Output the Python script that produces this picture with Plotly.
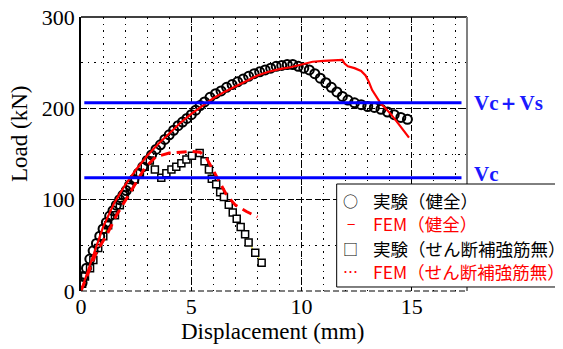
import plotly.graph_objects as go

# ---------------- data ----------------
# 実験（健全） – test, sound specimen (circles)
exp_sound_x = [0.05, 0.1, 0.25, 0.4, 0.55, 0.7, 0.85, 1.0, 1.15, 1.3, 1.45, 1.6, 1.75, 1.9, 2.05,
               2.2, 2.4, 2.6, 2.8, 3.0, 3.2, 3.4, 3.6, 3.8, 4.0, 4.2, 4.4, 4.6, 4.8, 5.0,
               5.2, 5.4, 5.6, 5.85, 6.1, 6.35, 6.6, 6.85, 7.1, 7.35, 7.6, 7.85, 8.1, 8.35, 8.6,
               8.85, 9.1, 9.35, 9.6, 9.85, 10.1, 10.35, 10.6, 10.85, 11.1, 11.35, 11.6, 11.85,
               12.1, 12.4, 12.7, 13.0, 13.3, 13.6, 13.9, 14.2, 14.5, 14.8]
exp_sound_y = [9, 16, 25, 35, 44, 52, 60, 68, 75, 82, 88, 94, 100, 105, 110,
               116, 122, 129, 136, 143, 149, 155, 160, 166, 171, 176, 181, 185, 189, 193,
               198, 203, 207, 212, 216, 219, 223, 226, 229, 232, 235, 238, 240, 242, 244,
               246, 247, 248, 248, 246, 244, 242, 238, 233, 228, 223, 218, 213,
               209, 206, 204, 202, 201, 199, 196, 193, 190, 188]

# FEM（健全） – analysis, sound specimen (solid red)
fem_sound_x = [0, 0.5, 1.0, 1.5, 2.0, 2.5, 3.0, 3.5, 4.0, 4.5, 5.0, 5.5, 6.0, 6.5, 7.0, 7.5,
               8.0, 8.5, 9.0, 9.5, 10.0, 10.5, 11.0, 11.5, 11.85, 11.95, 12.1, 12.4, 12.7,
               12.9, 13.05, 13.2, 13.4, 13.6, 13.8, 14.0, 14.3, 14.6, 14.87]
fem_sound_y = [0, 36, 70, 96, 116, 133, 148, 161, 173, 184, 194, 203, 211, 218, 224, 230,
               236, 240, 243, 245, 248, 251, 252, 253, 253, 249, 246, 244, 241,
               236, 229, 220, 212, 205, 200, 195, 186, 177, 168]

# 実験（せん断補強筋無） – test, no shear reinforcement (squares)
exp_noshear_x = [0.05, 0.18, 0.41, 0.56, 0.78, 1.01, 1.23, 1.54, 1.76, 1.99, 2.21, 2.44, 2.67,
                 2.89, 3.12, 3.35, 3.64, 3.87, 4.1, 4.32, 4.55, 4.78, 5.03, 5.38, 5.6, 5.8,
                 5.93, 6.13, 6.31, 6.48, 6.7, 6.88, 7.06, 7.24, 7.44, 7.6, 7.9, 8.19]
exp_noshear_y = [8, 16, 25, 34, 47, 60, 72, 83, 94, 105, 114, 122, 129,
                 136, 143, 133, 124, 129, 133, 136, 140, 144, 148, 151, 142, 133,
                 123, 117, 108, 103, 94.5, 86, 79, 70, 62, 53, 42, 31]

# FEM（せん断補強筋無） – analysis, no shear reinforcement (dashed red)
fem_noshear_x = [0, 0.33, 0.71, 1.16, 1.61, 2.06, 2.5, 2.9, 3.4, 4.0, 4.5, 5.0, 5.4, 5.7,
                 6.0, 6.3, 6.6, 7.0, 7.5, 8.0]
fem_noshear_y = [0, 21, 43, 61, 83, 101, 118, 135, 147, 151, 152, 153, 152, 145,
                 132, 119, 105, 94, 87, 81]

# design shear capacities
cap_labels = ["Vc＋Vs", "Vc"]
cap_values = [206, 124]

legend_labels = ["実験（健全）", "FEM（健全）", "実験（せん断補強筋無）", "FEM（せん断補強筋無）"]
legend_glyphs = ["○", "−", "□", "⋯"]
legend_colors = ["black", "red", "black", "red"]

x_ticks = [0, 5, 10, 15]
y_ticks = [0, 100, 200, 300]

# ---------------- figure ----------------
X_MAX, Y_MAX = 17.5, 300
SERIF = "Liberation Serif, Times New Roman, serif"
CJK = "Noto Sans CJK JP, sans-serif"

fig = go.Figure()

fig.add_trace(go.Scatter(x=exp_noshear_x, y=exp_noshear_y, mode="lines",
                         line=dict(color="#e8e000", width=1), showlegend=False, hoverinfo="skip"))
fig.add_trace(go.Scatter(x=exp_noshear_x, y=exp_noshear_y, mode="markers",
                         marker=dict(symbol="square", size=7, color="white",
                                     line=dict(color="black", width=1.5)),
                         name=legend_labels[2], showlegend=False))
fig.add_trace(go.Scatter(x=exp_sound_x, y=exp_sound_y, mode="markers",
                         marker=dict(symbol="circle-open", size=9,
                                     line=dict(color="black", width=2), color="black"),
                         name=legend_labels[0], showlegend=False))
fig.add_trace(go.Scatter(x=fem_sound_x, y=fem_sound_y, mode="lines",
                         line=dict(color="red", width=2.2), name=legend_labels[1], showlegend=False))
fig.add_trace(go.Scatter(x=fem_noshear_x, y=fem_noshear_y, mode="lines",
                         line=dict(color="red", width=3, dash="10px,6px"),
                         name=legend_labels[3], showlegend=False))

for v in cap_values:
    fig.add_trace(go.Scatter(x=[0.15, 17.25], y=[v, v], mode="lines",
                             line=dict(color="#0000ff", width=3), showlegend=False, hoverinfo="skip"))

# capacity labels
for lab, v, shift in zip(cap_labels, cap_values, [0, 4]):
    fig.add_annotation(x=1.0, xref="paper", y=v, yref="y", text=f"<b>{lab}</b>",
                       showarrow=False, xanchor="left", yanchor="middle", xshift=5, yshift=shift,
                       font=dict(family=SERIF, size=21, color="#1a1aff"))

# frame lines
fig.add_shape(type="line", xref="paper", yref="paper", x0=0, x1=1, y0=1, y1=1,
              line=dict(color="black", width=1.5))
fig.add_shape(type="line", xref="paper", yref="paper", x0=1, x1=1, y0=0, y1=1,
              line=dict(color="#808080", width=2))
fig.add_shape(type="line", xref="paper", yref="paper", x0=0, x1=1, y0=0, y1=0,
              line=dict(color="black", width=1, dash="6px,3px"))

# legend box (drawn as text)
fig.add_shape(type="rect", xref="paper", yref="paper", x0=0.6624, x1=1.2445, y0=0.0146, y1=0.3905,
              line=dict(color="black", width=1), fillcolor="white", layer="above")
row_y = [0.332, 0.247, 0.156, 0.072]
for g, lab, col, yy in zip(legend_glyphs, legend_labels, legend_colors, row_y):
    fig.add_annotation(x=0.699, xref="paper", y=yy, yref="paper", text=g, showarrow=False,
                       xanchor="center", yanchor="middle", font=dict(family=CJK, size=15, color=col))
    fig.add_annotation(x=0.750, xref="paper", y=yy, yref="paper", text=lab, showarrow=False,
                       xanchor="left", yanchor="middle", font=dict(family=CJK, size=17.5, color=col))

# axis titles
fig.add_annotation(x=-0.158, xref="paper", y=0.573, yref="paper", text="Load (kN)", textangle=-90,
                   showarrow=False, xanchor="center", yanchor="middle",
                   font=dict(family=SERIF, size=23, color="black"))
fig.add_annotation(x=0.4968, xref="paper", y=-0.1485, yref="paper", text="Displacement (mm)",
                   showarrow=False, xanchor="center", yanchor="middle",
                   font=dict(family=SERIF, size=23, color="black"))

grid_major = dict(showgrid=True, gridcolor="black", gridwidth=1, griddash="6px,3px")
fig.update_xaxes(range=[0, X_MAX], tickvals=x_ticks, ticktext=[str(t) for t in x_ticks],
                 zeroline=False, showline=False, ticks="", automargin=False,
                 ticklabeloverflow="allow",
                 tickfont=dict(family=SERIF, size=22, color="black"),
                 minor=dict(dtick=1, tick0=0, showgrid=True, gridcolor="black", gridwidth=1,
                            griddash="1.5px,5px"),
                 **grid_major)
fig.update_yaxes(range=[0, Y_MAX], tickvals=y_ticks, ticktext=[str(t) for t in y_ticks],
                 zeroline=False, showline=True, linecolor="black", linewidth=1.5, ticks="",
                 automargin=False, ticklabeloverflow="allow",
                 tickfont=dict(family=SERIF, size=22, color="black"),
                 minor=dict(dtick=50, tick0=0, showgrid=True, gridcolor="black", gridwidth=1,
                            griddash="1.5px,5px"),
                 **grid_major)

# the page adds an 8px body margin, so the figure is offset to compensate
fig.update_layout(width=563, height=349, margin=dict(l=73, r=103.5, t=9, b=66),
                  plot_bgcolor="white", paper_bgcolor="white", showlegend=False)

fig.write_html("out.html")
